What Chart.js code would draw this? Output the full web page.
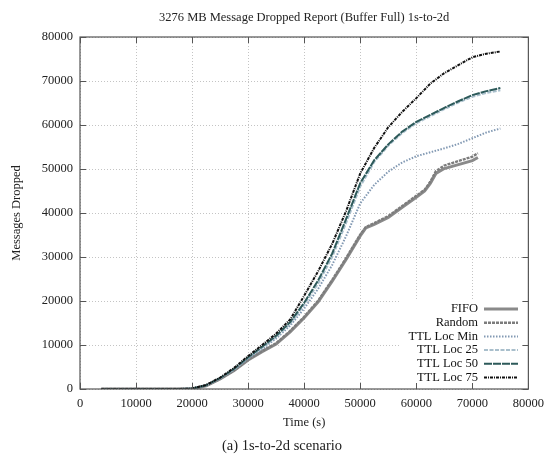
<!DOCTYPE html>
<html>
<head>
<meta charset="utf-8">
<script src="https://cdn.jsdelivr.net/npm/chart.js@4.4.1/dist/chart.umd.min.js"></script>
<style>
  html, body { margin: 0; padding: 0; background: #fff; }
  #wrap { width: 551px; height: 455px; position: relative; }
</style>
</head>
<body>
<div id="wrap"><canvas id="dropChart" width="551" height="455"></canvas></div>
<script>
// values
const ttlTime = [3800, 10000, 17500, 20000, 22500, 25000, 27500, 30000, 32500, 35000, 37500, 40000, 42500,
    45000, 47500, 50000, 52500, 55000, 57500, 60000, 62500, 65000, 67500, 70000, 72500, 75000];
const fifoTime = [3800, 10000, 17500, 20000, 22500, 25000, 27500, 30000, 32500, 35000, 37500, 40000, 42500,
    45000, 47500, 50000, 51000, 52500, 55000, 57500, 60000, 61500, 62500, 63500, 65000, 67500, 70000, 71000];

const fifo   = [0, 0, 0, 60, 750, 2300, 4200, 6600, 8500, 10200, 13000, 16200, 19800, 24500, 29500, 34800,
    36600, 37400, 39000, 41300, 43600, 45000, 46700, 49000, 50100, 51000, 51900, 52600];
const random = [0, 0, 0, 60, 760, 2320, 4250, 6700, 8650, 10400, 13200, 16400, 20100, 24800, 29800, 35100,
    36800, 37700, 39300, 41600, 43900, 45300, 47100, 49500, 50800, 51800, 52800, 53600];
const ttlMin = [0, 0, 0, 70, 800, 2400, 4400, 6900, 9100, 11500, 14400, 18300, 22800, 28200, 34800, 42200,
    46400, 49400, 51500, 52900, 53800, 54700, 55700, 57000, 58300, 59200];
const ttl25  = [0, 0, 0, 80, 850, 2450, 4500, 7100, 9400, 11800, 14800, 19100, 24000, 30000, 37800, 46000,
    51600, 55300, 58200, 60400, 62000, 63600, 65100, 66400, 67300, 67900];
const ttl50  = [0, 0, 0, 80, 850, 2500, 4600, 7200, 9600, 12100, 15200, 19600, 24700, 30800, 38700, 46800,
    52000, 55600, 58500, 60700, 62300, 63900, 65400, 66800, 67700, 68400];
const ttl75  = [0, 0, 0, 100, 900, 2600, 4800, 7500, 10000, 12600, 15800, 21200, 26800, 33000, 40500, 49000,
    54800, 59500, 63000, 66100, 69400, 71800, 73600, 75400, 76200, 76700];

const seriesLabels = ['FIFO', 'Random', 'TTL Loc Min', 'TTL Loc 25', 'TTL Loc 50', 'TTL Loc 75'];
const xTicks = [0, 10000, 20000, 30000, 40000, 50000, 60000, 70000, 80000];
const yTicks = [0, 10000, 20000, 30000, 40000, 50000, 60000, 70000, 80000];

const SERIF = "'Liberation Serif', 'DejaVu Serif', serif";

const pts = (xs, ys) => xs.map((x, i) => ({ x: x, y: ys[i] }));

const styles = [
    { color: '#8a8a8a', width: 3,   dash: [] },
    { color: '#7c7c7c', width: 2.4, dash: [3, 1] },
    { color: '#8299b3', width: 2,   dash: [1.5, 1.5] },
    { color: '#a9bfcc', width: 2,   dash: [4, 1.5] },
    { color: '#2d5a5a', width: 2,   dash: [8, 1] },
    { color: '#111111', width: 2,   dash: [3, 1, 1, 1] }
];
const values = [pts(fifoTime, fifo), pts(fifoTime, random), pts(ttlTime, ttlMin),
    pts(ttlTime, ttl25), pts(ttlTime, ttl50), pts(ttlTime, ttl75)];

// gnuplot style frame, inward ticks, key box and texts
const gnuplotLook = {
    id: 'gnuplotLook',
    afterDatasetsDraw(chart) {
        const ctx = chart.ctx;
        const a = chart.chartArea;
        const xs = chart.scales.x, ys = chart.scales.y;
        ctx.save();

        // opaque key box
        ctx.fillStyle = '#fff';
        ctx.fillRect(400, 299, a.right - 400, a.bottom - 299);

        // key entries
        ctx.font = '12.5px ' + SERIF;
        ctx.fillStyle = '#111';
        ctx.textAlign = 'right';
        ctx.textBaseline = 'middle';
        chart.data.datasets.forEach((ds, i) => {
            const y = 309 + i * 13.7;
            ctx.fillText(ds.label, 478, y);
            ctx.beginPath();
            ctx.strokeStyle = ds.borderColor;
            ctx.lineWidth = ds.borderWidth;
            ctx.setLineDash(ds.borderDash);
            ctx.moveTo(484, y);
            ctx.lineTo(518, y);
            ctx.stroke();
        });
        ctx.setLineDash([]);

        // frame
        ctx.strokeStyle = '#555';
        ctx.lineWidth = 1.2;
        ctx.strokeRect(a.left, a.top, a.right - a.left, a.bottom - a.top);

        // inward ticks on all four sides
        ctx.lineWidth = 1;
        ctx.beginPath();
        xTicks.forEach(v => {
            const px = Math.round(xs.getPixelForValue(v)) + 0.5;
            ctx.moveTo(px, a.bottom); ctx.lineTo(px, a.bottom - 6);
            ctx.moveTo(px, a.top); ctx.lineTo(px, a.top + 6);
        });
        yTicks.forEach(v => {
            const py = Math.round(ys.getPixelForValue(v)) + 0.5;
            ctx.moveTo(a.left, py); ctx.lineTo(a.left + 6, py);
            ctx.moveTo(a.right, py); ctx.lineTo(a.right - 6, py);
        });
        ctx.stroke();

        // texts
        const cx = (a.left + a.right) / 2;
        ctx.fillStyle = '#222';
        ctx.textAlign = 'center';
        ctx.font = '12.5px ' + SERIF;
        ctx.fillText('3276 MB Message Dropped Report (Buffer Full) 1s-to-2d', cx, 18);
        ctx.fillText('Time (s)', cx, 423);
        ctx.font = '14.5px ' + SERIF;
        ctx.fillText('(a) 1s-to-2d scenario', 282, 446);
        ctx.translate(17, (a.top + a.bottom) / 2);
        ctx.rotate(-Math.PI / 2);
        ctx.font = '12.5px ' + SERIF;
        ctx.fillText('Messages Dropped', 0, 0);
        ctx.restore();
    }
};

const ctx = document.getElementById('dropChart').getContext('2d');
new Chart(ctx, {
    type: 'line',
    data: {
        datasets: seriesLabels.map((label, i) => ({
            label: label,
            data: values[i],
            borderColor: styles[i].color,
            borderWidth: styles[i].width,
            borderDash: styles[i].dash,
            pointRadius: 0,
            tension: 0,
            fill: false,
            order: seriesLabels.length - i
        }))
    },
    options: {
        responsive: false,
        animation: false,
        layout: { padding: { top: 37, right: 18, left: 0, bottom: 0 } },
        plugins: { legend: { display: false }, tooltip: { enabled: false } },
        scales: {
            x: {
                type: 'linear', min: 0, max: 80000,
                afterBuildTicks: s => { s.ticks = xTicks.map(v => ({ value: v })); },
                afterFit: s => { s.height = 66; },
                ticks: { color: '#222', font: { family: SERIF, size: 12.5 }, padding: 7, maxRotation: 0,
                    callback: v => String(v) },
                grid: { color: '#c4c4c4', drawTicks: false },
                border: { display: false, dash: [1, 2] }
            },
            y: {
                min: 0, max: 80000,
                afterBuildTicks: s => { s.ticks = yTicks.map(v => ({ value: v })); },
                afterFit: s => { s.width = 80; },
                ticks: { color: '#222', font: { family: SERIF, size: 12.5 }, padding: 7,
                    callback: v => String(v) },
                grid: { color: '#c4c4c4', drawTicks: false },
                border: { display: false, dash: [1, 2] }
            }
        }
    },
    plugins: [gnuplotLook]
});
</script>
</body>
</html>
